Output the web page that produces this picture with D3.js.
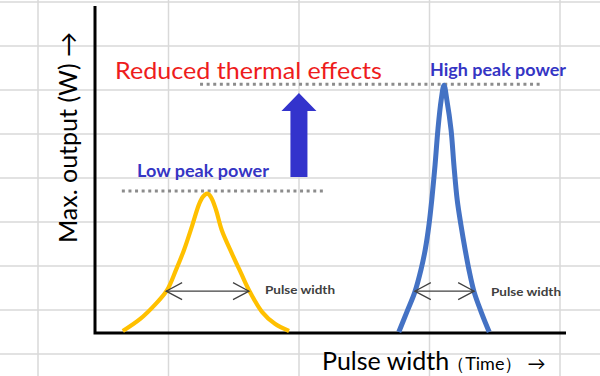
<!DOCTYPE html>
<html>
<head>
<meta charset="utf-8">
<script src="https://cdn.jsdelivr.net/npm/d3@7"></script>
<style>
  html, body { margin: 0; padding: 0; background: #fff; }
  svg { display: block; }
  text { font-family: Lato, "Noto Sans", sans-serif; }
</style>
</head>
<body>
<svg id="chart" width="600" height="376"></svg>
<script>
// ---- data (time units 0..100, power units 0..100) ----
const lowPulseTime  = [5.9, 9.6, 12.7, 15.3, 17.2, 18.9, 20.6, 22.1, 22.9, 23.8, 24.6, 25.7, 26.9, 29.1, 31.0, 32.7, 35.5, 38.2, 41.2];
const lowPulsePower = [0.6, 4.3, 8.6, 13.1, 19.3, 25.4, 32.7, 39.4, 41.6, 42.6, 41.6, 37.6, 31.5, 24.2, 18.3, 13.1, 6.4, 2.8, 0.6];
const highPulseTime  = [64.5, 66.2, 67.9, 69.2, 70.1, 70.9, 71.5, 72.2, 72.8, 73.5, 74.1, 74.7, 75.6, 76.2, 76.9, 77.7, 78.6, 79.4, 80.5, 82.0, 83.7];
const highPulsePower = [0.3, 6.4, 12.5, 19.3, 25.4, 33.0, 40.7, 51.4, 62.1, 71.3, 75.8, 71.3, 62.1, 51.4, 40.7, 33.0, 25.4, 19.3, 12.5, 6.4, 0.3];
const peakLevels    = [43.4, 76.1];          // low / high peak power reference
const peakLineStart = [5.7, 22.3];
const peakLineEnd   = [48.4, 94.5];
const widthLevels   = [12.8, 12.8];          // pulse width arrows
const widthStart    = [15.1, 67.9];
const widthEnd      = [32.7, 80.5];
const arrowTime     = [43.3];
const arrowFrom     = [47.7];
const arrowTo       = [73.4];
const peakLabels    = ["Low peak power", "High peak power"];
const widthLabels   = ["Pulse width", "Pulse width"];
const noteLabel     = ["Reduced thermal effects"];
const yTitle        = ["Max. output (W) →"];
const xTitle        = ["Pulse width", "（Time）", "→"];

// ---- setup ----
const svg = d3.select("#chart");
const x = d3.scaleLinear().domain([0, 100]).range([95, 566]);
const y = d3.scaleLinear().domain([0, 100]).range([333, 6]);

// background sheet grid
const gx = d3.scaleLinear().domain([0, 4]).range([38, 560]);
const gy = d3.scaleLinear().domain([0, 8]).range([2, 354]);
const grid = svg.append("g").attr("stroke", "#d9d9d9").attr("stroke-width", 1.5);
grid.selectAll("line.v").data(d3.range(0, 5)).join("line").attr("class", "v")
  .attr("x1", d => gx(d)).attr("x2", d => gx(d)).attr("y1", 0).attr("y2", 376);
grid.selectAll("line.h").data(d3.range(0, 9)).join("line").attr("class", "h")
  .attr("y1", d => gy(d)).attr("y2", d => gy(d)).attr("x1", 0).attr("x2", 600);

// reference dotted lines
svg.append("g").selectAll("line").data(peakLevels).join("line")
  .attr("x1", (d, i) => x(peakLineStart[i])).attr("x2", (d, i) => x(peakLineEnd[i]))
  .attr("y1", d => y(d)).attr("y2", d => y(d))
  .attr("stroke", "#8c8c8c").attr("stroke-width", 3).attr("stroke-dasharray", "3,3.6");

// axes
svg.append("path")
  .attr("d", `M${x(0)},${y(100)} V${y(0)} H${x(100)}`)
  .attr("fill", "none").attr("stroke", "#000").attr("stroke-width", 3)
  .attr("stroke-linejoin", "miter");

// pulses
const line = d3.line().curve(d3.curveCatmullRom.alpha(0.5))
  .x(d => x(d[0])).y(d => y(d[1]));
svg.append("path").datum(d3.zip(lowPulseTime, lowPulsePower))
  .attr("d", line).attr("fill", "none").attr("stroke", "#FFC000").attr("stroke-width", 4.2)
  .attr("stroke-linecap", "butt");
svg.append("path").datum(d3.zip(highPulseTime, highPulsePower))
  .attr("d", line).attr("fill", "none").attr("stroke", "#4472C4").attr("stroke-width", 5)
  .attr("stroke-linecap", "butt");

// pulse-width double arrows
const wa = svg.append("g").attr("stroke", "#404040").attr("stroke-width", 1.2).attr("fill", "none");
widthLevels.forEach((lv, i) => {
  const x1 = x(widthStart[i]), x2 = x(widthEnd[i]), yy = y(lv);
  wa.append("line").attr("x1", x1).attr("x2", x2).attr("y1", yy).attr("y2", yy);
  wa.append("path").attr("d", `M${x1 + 16},${yy - 8.5} L${x1},${yy} L${x1 + 16},${yy + 8.5}`);
  wa.append("path").attr("d", `M${x2 - 16},${yy - 8.5} L${x2},${yy} L${x2 - 16},${yy + 8.5}`);
});

// big up arrow
arrowTime.forEach((t, i) => {
  const cx = x(t), yb = y(arrowFrom[i]), yt = y(arrowTo[i]);
  const sw = 8.5, hw = 17.5, hl = 18;
  svg.append("path")
    .attr("d", `M${cx - sw},${yb} V${yt + hl} H${cx - hw} L${cx},${yt} L${cx + hw},${yt + hl} H${cx + sw} V${yb} Z`)
    .attr("fill", "#3333CC");
});

// labels
svg.append("text").attr("x", 115).attr("y", 79)
  .attr("fill", "#EE1C1C").attr("font-size", 22.5)
  .attr("textLength", 267).attr("lengthAdjust", "spacingAndGlyphs").text(noteLabel[0]);
svg.append("text").attr("x", 137).attr("y", 177)
  .attr("fill", "#3535C4").attr("font-size", 16.5).attr("font-weight", "bold")
  .attr("textLength", 132).attr("lengthAdjust", "spacingAndGlyphs").text(peakLabels[0]);
svg.append("text").attr("x", 430).attr("y", 76)
  .attr("fill", "#3535C4").attr("font-size", 16.5).attr("font-weight", "bold")
  .attr("textLength", 136).attr("lengthAdjust", "spacingAndGlyphs").text(peakLabels[1]);
svg.append("text").attr("x", 265).attr("y", 294)
  .attr("fill", "#404040").attr("font-size", 11.5).attr("font-weight", "bold")
  .attr("textLength", 70).attr("lengthAdjust", "spacingAndGlyphs").text(widthLabels[0]);
svg.append("text").attr("x", 491).attr("y", 296)
  .attr("fill", "#404040").attr("font-size", 11.5).attr("font-weight", "bold")
  .attr("textLength", 70).attr("lengthAdjust", "spacingAndGlyphs").text(widthLabels[1]);

// axis titles
svg.append("text").attr("transform", "translate(77,137.5) rotate(-90)")
  .attr("text-anchor", "middle").attr("font-size", 25).attr("fill", "#000").text(yTitle[0]);
const xt = svg.append("text").attr("x", 322).attr("y", 370).attr("fill", "#000");
xt.append("tspan").attr("font-size", 25).text(xTitle[0]);
xt.append("tspan").attr("font-size", 18).attr("dx", -2).text(xTitle[1]);
xt.append("tspan").attr("font-size", 18).attr("dx", 5).text(xTitle[2]);
</script>
</body>
</html>
